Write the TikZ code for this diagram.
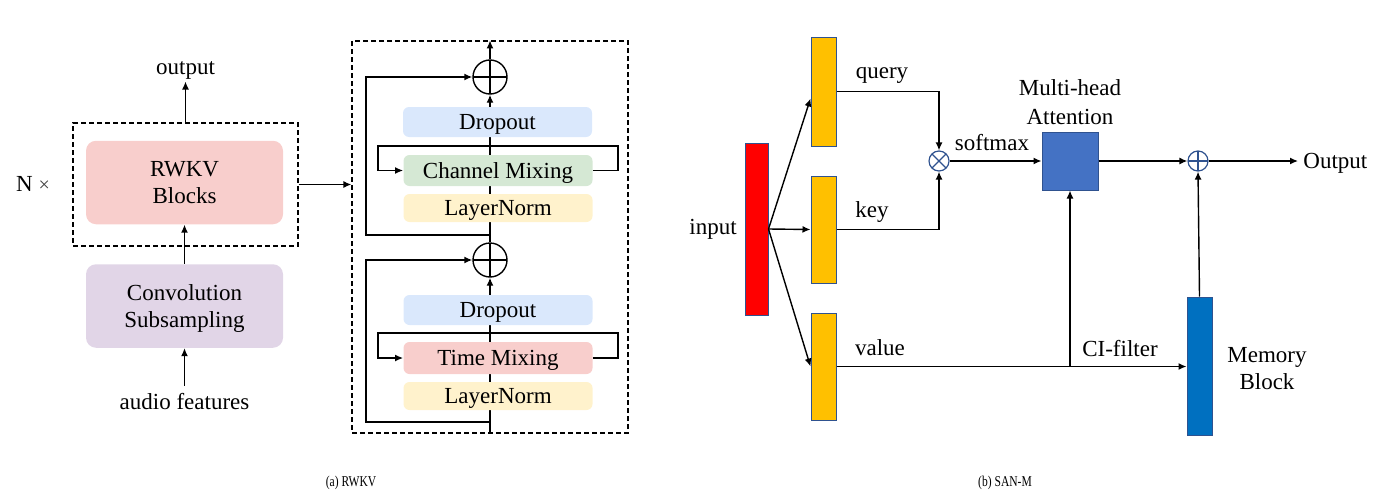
\documentclass[tikz,border=0pt]{standalone}
\usepackage{fontspec}
\setmainfont{Liberation Serif}
\usetikzlibrary{arrows.meta,backgrounds}
\definecolor{cpink}{HTML}{F8CECC}
\definecolor{cviolet}{HTML}{E1D5E7}
\definecolor{cblue}{HTML}{DAE8FC}
\definecolor{cgreen}{HTML}{D5E8D4}
\definecolor{cyellow}{HTML}{FFF2CC}
\definecolor{cred}{HTML}{FF0000}
\definecolor{corange}{HTML}{FFC000}
\definecolor{cmha}{HTML}{4472C4}
\definecolor{cmem}{HTML}{0070C0}
\definecolor{cbord}{HTML}{2F528F}
\definecolor{cgrey}{HTML}{404040}
\begin{document}
\begin{tikzpicture}[x=0.5pt,y=-0.5pt,font=\fontsize{11.5}{13.75}\selectfont,
  every node/.style={text depth=0pt},
  arr/.style={-{Latex[length=4pt,width=3.5pt]},line width=0.7pt},
  bigbox/.style={rounded corners=5pt,inner sep=0pt,minimum width=98.5pt,minimum height=41.75pt,align=center},
  smallbox/.style={rounded corners=3pt,inner sep=0pt,minimum width=94.5pt},
  dbox/.style={draw,dash pattern=on 2.5pt off 1.5pt,line width=0.6pt,inner sep=0pt},
  bar/.style={draw=cbord,line width=0.5pt,inner sep=0pt,minimum width=12.5pt},
  plusnode/.style={circle,draw,line width=0.7pt,minimum size=17pt,inner sep=0pt,
    path picture={\draw[line width=0.7pt] (path picture bounding box.north) -- (path picture bounding box.south)
      (path picture bounding box.west) -- (path picture bounding box.east);}},
  oplusnode/.style={circle,draw=cbord,fill=white,line width=0.6pt,minimum size=10pt,inner sep=0pt,
    path picture={\draw[cbord,line width=0.6pt] (path picture bounding box.north) -- (path picture bounding box.south)
      (path picture bounding box.west) -- (path picture bounding box.east);}},
  otimesnode/.style={circle,draw=cbord,fill=white,line width=0.6pt,minimum size=10pt,inner sep=0pt,
    path picture={\draw[cbord,line width=0.6pt] (path picture bounding box.north west) -- (path picture bounding box.south east)
      (path picture bounding box.south west) -- (path picture bounding box.north east);}},
  captext/.style={font=\fontsize{7.5}{8}\selectfont}
]
\useasboundingbox (0,0) rectangle (1380,503);

% ---------------- (a) RWKV ----------------
\node[bigbox,fill=cpink] (rwkv) at (184.5,182.5) {RWKV\\Blocks};
\node[bigbox,fill=cviolet] (conv) at (184.5,306) {Convolution\\Subsampling};
\node[dbox,minimum width=112.5pt,minimum height=61.5pt] (nbox) at (185.5,184.5) {};
\node (outtxt) at (185.5,68) {output};
\node (audio) at (184.5,401) {audio features};
\node (ntimes) at (33,184) {N {\fontsize{10}{12}\selectfont\textcolor{cgrey}{×}}};
\draw[arr] (nbox.north) -- (outtxt.south);
\draw[arr] (conv.north) -- (rwkv.south);
\draw[arr] (audio.north) -- (conv.south);

% detailed block
\node[dbox,minimum width=138pt,minimum height=196pt] (blk) at (490,237) {};
\draw[arr] (nbox.east) -- (nbox.east -| blk.west);

\node[smallbox,fill=cblue,minimum height=15pt] (do1) at (497.5,122) {Dropout};
\node[smallbox,fill=cgreen,minimum height=15.5pt] (cm) at (498,170.5) {Channel Mixing};
\node[smallbox,fill=cyellow,minimum height=14pt] (ln1) at (498,208) {LayerNorm};
\node[smallbox,fill=cblue,minimum height=15pt] (do2) at (498,310) {Dropout};
\node[smallbox,fill=cpink,minimum height=16pt] (tm) at (498,358) {Time Mixing};
\node[smallbox,fill=cyellow,minimum height=14pt] (ln2) at (498,396) {LayerNorm};
\node[plusnode] (p1) at (490,77) {};
\node[plusnode] (p2) at (490,260) {};

\coordinate (r1) at (490,235);
\coordinate (r1l) at (366,235);
\coordinate (r2) at (490,422);
\coordinate (r2l) at (366,422);
\coordinate (l1a) at (618,146);
\coordinate (l1b) at (378,146);
\coordinate (l2a) at (618,333);
\coordinate (l2b) at (378,333);

\begin{scope}[on background layer]
\draw[arr] (blk.south) -- (p2.south);
\draw[arr] (p2.north) -- (p1.south);
\end{scope}
\draw[arr] (p1.north) -- (blk.north);
\draw[arr] (r1) -- (r1l) |- (p1.west);
\draw[arr] (r2) -- (r2l) |- (p2.west);
\draw[arr] (cm.east) -| (l1a) -- (l1b) |- (cm.west);
\draw[arr] (tm.east) -| (l2a) -- (l2b) |- (tm.west);

% ---------------- (b) SAN-M ----------------
\node[bar,fill=cred,minimum width=11.5pt,minimum height=86pt] (inp) at (756.5,229) {};
\node[bar,fill=corange,minimum height=54.5pt] (q) at (823.5,91.5) {};
\node[bar,fill=corange,minimum height=53.5pt] (k) at (823.5,229.5) {};
\node[bar,fill=corange,minimum height=53.5pt] (v) at (823.5,366.5) {};
\node[draw=cbord,fill=cmha,line width=0.5pt,minimum width=28pt,minimum height=29pt,inner sep=0pt] (mha) at (1070,161) {};
\node[bar,fill=cmem,minimum height=69pt] (mem) at (1199.5,366) {};
\node[otimesnode] (ox) at (939,161) {};
\node[oplusnode] (op) at (1198,161) {};

\node (inptxt) at (713,227) {input};
\node (qtxt) at (882,73) {query};
\node (ktxt) at (872,210) {key};
\node (vtxt) at (880,348) {value};
\node (smtxt) at (992,142) {softmax};
\node[align=center,font=\fontsize{11.5}{14.5}\selectfont] (mhatxt) at (1070,102) {Multi-head\\Attention};
\node (citxt) at (1120,348) {CI-filter};
\node[align=center] (memtxt) at (1267,368.5) {Memory\\Block};
\node[anchor=west,inner sep=2.5pt] (outp) at (1298,161) {Output};

\draw[arr] (inp.east) -- ([yshift=-3.5pt]q.west);
\draw[arr] (inp.east) -- (k.west);
\draw[arr] (inp.east) -- (v.west);
\draw[arr] (q.east) -| (ox.north);
\draw[arr] (k.east) -| (ox.south);
\draw[arr] (ox.east) -- (mha.west);
\draw[arr] (mha.east) -- (op.west);
\draw[arr] (op.east) -- (outp.west);
\draw[arr] (v.east) -- (v.east -| mem.west);
\draw[arr] (mha.south |- v.east) -- (mha.south);
\draw[arr] (mem.north) -- (op.south);

% captions
\node[captext] (capa) at (351,481) {\scalebox{0.77}[1]{(a) RWKV}};
\node[captext] (capb) at (1005,481) {\scalebox{0.77}[1]{(b) SAN-M}};
\end{tikzpicture}
\end{document}
